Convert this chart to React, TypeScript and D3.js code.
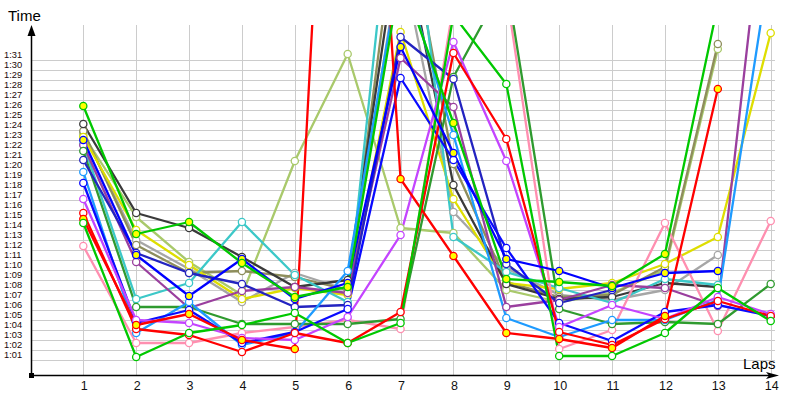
import React from "react";
import * as d3 from "d3";

const laps = [1, 2, 3, 4, 5, 6, 7, 8, 9, 10, 11, 12, 13, 14];
const yTicks = d3.range(61, 92);

// lap times in seconds (1:01 = 61)
const gy = [85.9, 73.1, 74.3, 70.2, 66.8, 67.8, 99, 84.2, 68.6, 68.3, 67.9, 71.1, 96, null];
const gw = [74.2, 60.8, 63.2, 64.0, 65.2, 62.2, 64.2, 95, 88.1, 60.9, 60.9, 63.2, 67.7, 64.4];
const by = [82.5, 71.0, 66.9, 70.6, 66.6, 68.2, 91.8, 81.2, 70.6, 69.4, 67.7, 69.2, 69.4, null];
const kk = [84.1, 75.2, 73.7, 70.8, 67.8, 68.5, 104, 78.0, 68.1, 66.6, 66.8, 68.2, 67.8, null];
const ol = [83.4, 72.0, 69.2, 69.4, 68.8, 67.5, 108, 80.1, 68.3, 66.8, 67.0, 69.8, 92.1, null];
const lo = [83.0, 74.8, 70.3, 67.0, 80.4, 91.1, 73.7, 73.2, 67.5, 66.3, 67.2, 69.5, 91.6, null];
const ye = [82.8, 73.5, 70.0, 66.6, 67.7, 67.0, 93.3, 76.6, 68.2, 67.6, 68.2, 70.1, 72.8, 93.2];
const te = [82.1, 66.6, 68.2, 74.3, 69.0, 66.3, 116, 72.8, 69.3, 67.7, 66.2, 68.6, 68.0, null];
const dg = [81.4, 65.8, 65.8, 64.1, 64.1, 64.1, 64.6, 88.8, 98.5, 65.6, 64.1, 64.3, 64.1, 68.1];
const lb = [79.3, 63.2, 66.3, 62.0, 63.2, 69.4, 100, 83.0, 64.7, 62.8, 64.5, 64.5, 66.5, 100.6];
const bw = [78.2, 64.2, 65.5, 62.2, 63.3, 65.6, 88.7, 80.5, 71.7, 64.2, 62.4, 65.3, 66.0, 64.9];
const vi = [76.6, 64.5, 64.2, 62.7, 62.5, 64.8, 73.0, 92.3, 80.4, 63.8, 66.0, 64.6, 66.8, 65.1];
const ry = [74.6, 64.0, 65.1, 62.5, 61.6, 160, 78.6, 70.9, 63.2, 62.6, 61.7, 64.9, 87.6, null];
const rw = [75.2, 63.6, 63.0, 61.3, 63.2, 62.2, 65.3, 91.2, 82.6, 63.3, 62.0, 64.6, 66.4, 64.9];
const pk = [71.9, 62.2, 62.2, 63.2, 63.8, 64.5, 63.6, 96, 97.4, 61.6, 63.5, 74.2, 63.4, 74.4];
const pu = [82.0, 70.3, 65.7, 67.4, 67.8, 67.2, 90.7, 85.8, 65.8, 66.5, 68.0, 67.7, 65.9, 112.6];
const nv = [80.5, 71.2, 69.2, 68.1, 65.8, 66.0, 92.8, 88.6, 70.1, 66.2, 67.5, null, null, null];
const gr = [83.2, 72.5, 69.6, 66.3, 69.2, 67.5, 101, 75.3, 69.7, 67.0, 66.5, 67.5, 71.0, null];

const series = [
  { v: gr, c: "#a6a6a6", f: "#ffffff" },
  { v: lo, c: "#a9c96b", f: "#ffffff" },
  { v: ol, c: "#8e8e5c", f: "#ffffff" },
  { v: ye, c: "#dede00", f: "#ffffff" },
  { v: kk, c: "#3a3a3a", f: "#ffffff" },
  { v: te, c: "#3cc8c8", f: "#ffffff" },
  { v: pu, c: "#9a3f9e", f: "#ffffff" },
  { v: pk, c: "#ff8fb0", f: "#ffffff" },
  { v: dg, c: "#2f9a2f", f: "#ffffff" },
  { v: nv, c: "#2323c0", f: "#ffffff" },
  { v: lb, c: "#1e9bff", f: "#ffffff" },
  { v: bw, c: "#0a0aff", f: "#ffffff" },
  { v: vi, c: "#c444ff", f: "#ffffff" },
  { v: rw, c: "#ff0000", f: "#ffffff" },
  { v: ry, c: "#ff0000", f: "#ffff00" },
  { v: gw, c: "#00c800", f: "#ffffff" },
  { v: by, c: "#0000ff", f: "#ffff00" },
  { v: gy, c: "#00c800", f: "#ffff00" },
];

const fmt = (t: number) => {
  const m = Math.floor(t / 60);
  const s = t - m * 60;
  return `${m}:${s < 10 ? "0" : ""}${s}`;
};

export default function App() {
  const W = 800, H = 400;
  const x = d3.scaleLinear().domain([1, 14]).range([83.3, 770.7]);
  const y = d3.scaleLinear().domain([61, 91]).range([355, 55]);
  const left = 31, bottom = 375, top = 25, right = 775;
  const line = d3
    .line<number | null>()
    .defined((d) => d !== null)
    .x((_, i) => x(laps[i]))
    .y((d) => y(d as number));
  const font = "'Liberation Sans', Arial, sans-serif";
  return (
    <svg width={W} height={H} style={{ position: "absolute", left: 0, top: 0, background: "#fff" }}>
      <defs>
        <clipPath id="plot">
          <rect x={left} y={top} width={right - left + 6} height={bottom - top} />
        </clipPath>
      </defs>
      <rect x={0} y={0} width={W} height={H} fill="#fff" />
      {yTicks.map((t) => (
        <line key={"h" + t} x1={left} x2={right} y1={Math.round(y(t - 0.5)) + 0.5} y2={Math.round(y(t - 0.5)) + 0.5} stroke="#cccccc" strokeWidth={1} />
      ))}
      {laps.map((l) => (
        <line key={"v" + l} x1={Math.round(x(l)) + 0.5} x2={Math.round(x(l)) + 0.5} y1={top} y2={bottom} stroke="#cccccc" strokeWidth={1} />
      ))}
      {yTicks.map((t) => (
        <text key={"yl" + t} x={4} y={y(t)} dy="0.35em" fontFamily={font} fontSize={9.3} fill="#1a0808">
          {fmt(t)}
        </text>
      ))}
      {laps.map((l) => (
        <text key={"xl" + l} x={x(l) + 1} y={390} textAnchor="middle" fontFamily={font} fontSize={12.5} fill="#111">
          {l}
        </text>
      ))}
      <g clipPath="url(#plot)">
        {series.map((s, i) => (
          <path key={"p" + i} d={line(s.v) || ""} fill="none" stroke={s.c} strokeWidth={2.3} strokeLinejoin="round" />
        ))}
        {series.map((s, i) =>
          s.v.map((d, j) =>
            d === null ? null : (
              <circle key={"c" + i + "-" + j} cx={x(laps[j])} cy={y(d)} r={3.6} fill={s.f} stroke={s.c} strokeWidth={1.3} />
            )
          )
        )}
      </g>
      <line x1={left + 0.5} x2={left + 0.5} y1={bottom} y2={32} stroke="#000" strokeWidth={1.5} />
      <path d={`M${left + 0.5},25 L${left - 3.5},36 L${left + 4.5},36 Z`} fill="#000" />
      <line x1={left} x2={770} y1={bottom + 0.5} y2={bottom + 0.5} stroke="#000" strokeWidth={1.5} />
      <path d={`M779,${bottom + 0.5} L766,${bottom - 3} L769,${bottom + 0.5} L766,${bottom + 4} Z`} fill="#000" />
      <rect x={left - 2} y={bottom - 2} width={5} height={5} fill="#000" />
      <text x={8} y={21} fontFamily={font} fontSize={15} fill="#000">Time</text>
      <text x={743} y={369} fontFamily={font} fontSize={15} fill="#000">Laps</text>
    </svg>
  );
}
